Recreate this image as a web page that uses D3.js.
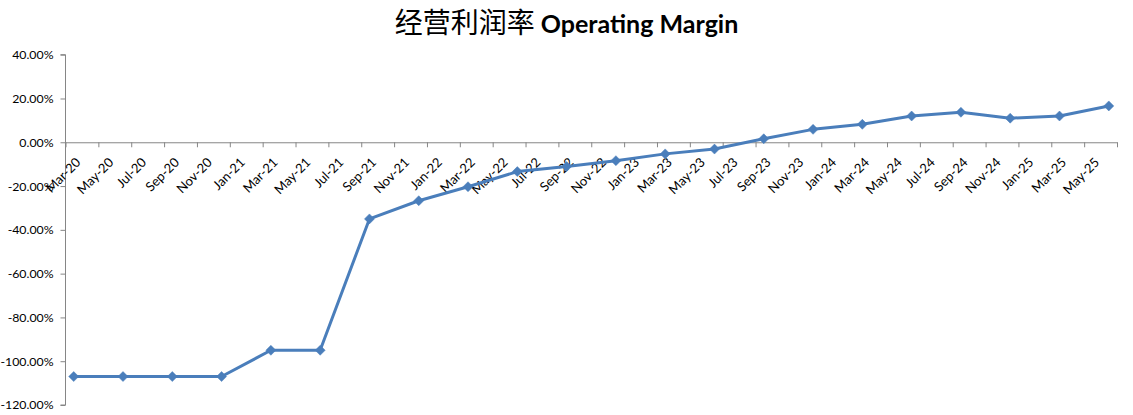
<!DOCTYPE html>
<html>
<head>
<meta charset="utf-8">
<script src="https://cdn.jsdelivr.net/npm/d3@7"></script>
<style>
  html, body { margin: 0; padding: 0; background: #fff; }
  svg { display: block; }
</style>
</head>
<body>
<svg id="chart" width="1133" height="415"></svg>
<script>
// ---- data ----
const categories = ["2020-03","2020-06","2020-09","2020-12","2021-03","2021-06","2021-09","2021-12",
  "2022-03","2022-06","2022-09","2022-12","2023-03","2023-06","2023-09","2023-12",
  "2024-03","2024-06","2024-09","2024-12","2025-03","2025-06"];
const values = [-107, -107, -107, -107, -95, -95, -35, -26.7,
  -20.3, -13.4, -11.1, -8.4, -5.3, -3.1, 1.6, 5.9,
  8.2, 12.0, 13.7, 11.0, 12.0, 16.6];
const xTickLabels = ["Mar-20","May-20","Jul-20","Sep-20","Nov-20",
  "Jan-21","Mar-21","May-21","Jul-21","Sep-21","Nov-21",
  "Jan-22","Mar-22","May-22","Jul-22","Sep-22","Nov-22",
  "Jan-23","Mar-23","May-23","Jul-23","Sep-23","Nov-23",
  "Jan-24","Mar-24","May-24","Jul-24","Sep-24","Nov-24",
  "Jan-25","Mar-25","May-25"];
const yTicks = [-120, -100, -80, -60, -40, -20, 0, 20, 40];
const titleCn = "经营利润率";
const titleEn = "Operating Margin";

(function () {
  // ---- layout ----
  const svg = d3.select("#chart");
  const mLeft = 65.5, mRight = 1117, mTop = 54.7, mBottom = 405;
  const startYear = 2020, startMonth = 3;
  const monthIndex = s => { const [yy, mm] = s.split("-").map(Number); return (yy - startYear) * 12 + (mm - startMonth); };
  const totalMonths = 64;

  const x = d3.scaleLinear().domain([0, totalMonths]).range([mLeft, mRight]);
  const y = d3.scaleLinear().domain([-120, 40]).range([mBottom, mTop]);
  const monthW = x(1) - x(0);

  // title
  const title = svg.append("text")
    .attr("x", 566.5).attr("y", 33)
    .attr("text-anchor", "middle")
    .attr("fill", "#000");
  title.append("tspan").text(titleCn)
    .attr("font-family", "'Noto Sans CJK SC', sans-serif")
    .attr("font-size", 28).attr("font-weight", 400);
  title.append("tspan").text(" " + titleEn)
    .attr("font-family", "Lato, 'Open Sans', sans-serif")
    .attr("font-size", 25).attr("font-weight", 700);

  // y axis
  const yAxis = svg.append("g")
    .attr("transform", `translate(${mLeft},0)`)
    .call(d3.axisLeft(y).tickValues(yTicks).tickSize(5).tickPadding(7)
      .tickFormat(d => d.toFixed(2) + "%"));
  yAxis.selectAll("path, line").attr("stroke", "#868686").attr("stroke-width", 1);
  yAxis.select(".domain").attr("d", `M-5,${y(40)}H0V${y(-120)}H-5`);
  yAxis.selectAll("text")
    .attr("font-family", "Lato, 'Open Sans', sans-serif")
    .attr("font-size", 12.3).attr("fill", "#000");

  // x axis
  const xTickVals = d3.range(0, totalMonths + 1, 2);
  const xAxis = svg.append("g")
    .attr("transform", `translate(0,${y(0)})`)
    .call(d3.axisBottom(x).tickValues(xTickVals).tickSize(5).tickSizeOuter(0)
      .tickFormat((d, i) => xTickLabels[i] || ""));
  xAxis.selectAll("path, line").attr("stroke", "#868686").attr("stroke-width", 1);
  xAxis.selectAll("text")
    .attr("font-family", "Lato, 'Open Sans', sans-serif")
    .attr("font-size", 13).attr("fill", "#000")
    .attr("text-anchor", "end")
    .attr("dy", null).attr("y", 0)
    .attr("transform", `translate(${monthW - 1},21) rotate(-45)`);

  // line
  const pts = categories.map((c, i) => ({ m: monthIndex(c) + 0.5, v: values[i] }));
  svg.append("path")
    .datum(pts)
    .attr("fill", "none")
    .attr("stroke", "#4A7EBB")
    .attr("stroke-width", 3)
    .attr("stroke-linejoin", "round")
    .attr("d", d3.line().x(d => x(d.m)).y(d => y(d.v)));

  // markers
  svg.append("g").selectAll("path")
    .data(pts).join("path")
    .attr("transform", d => `translate(${x(d.m)},${y(d.v)})`)
    .attr("d", "M0,-5L5,0L0,5L-5,0Z")
    .attr("fill", "#4A7EBB")
    .attr("stroke", "#4A7EBB")
    .attr("stroke-width", 0.5);
})();
</script>
</body>
</html>
